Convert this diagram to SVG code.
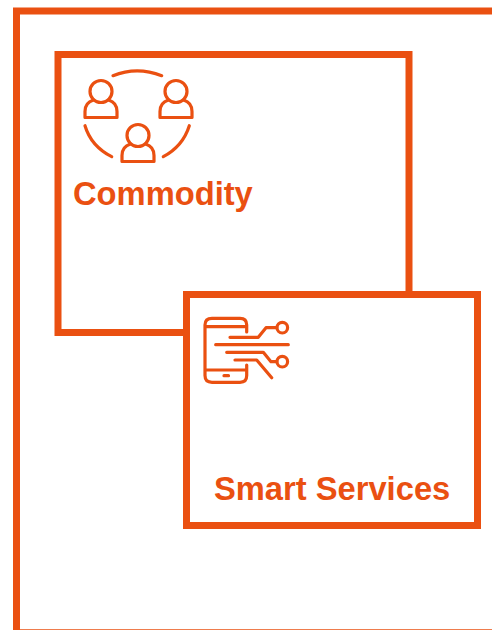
<svg xmlns="http://www.w3.org/2000/svg" width="492" height="630" viewBox="0 0 492 630">
<style>
.box{fill:#fff;stroke:#ea5011;stroke-width:7}
.ic{fill:none;stroke:#ea5011;stroke-width:3.200;stroke-linecap:round;stroke-linejoin:round}
.lbl{font-family:"Liberation Sans",Arial,sans-serif;font-weight:700;font-size:32.700px;fill:#ea5011}
</style>
<defs>
<g id="person" class="ic">
<circle cx="0" cy="-15" r="11"/>
<path d="M-7.500-6.500C-12.500-5-16-1-16 5V11H16V5C16-1 12.500-5 7.500-6.500"/>
</g>
</defs>
<rect width="492" height="630" fill="#fff"/>
<g id="frame">
<path d="M16.500 630V11H492" fill="none" stroke="#ea5011" stroke-width="7"/>
<path d="M20 629.500H492" fill="none" stroke="#ea5011" stroke-opacity=".75" stroke-width="1"/>
</g>
<g id="commodity">
<rect class="box" x="58" y="54.500" width="351" height="278"/>
<use href="#person" x="101" y="106.500"/>
<use href="#person" x="176" y="106.500"/>
<use href="#person" x="138" y="150.500"/>
<path class="ic" d="M113 75.700Q137 66 161.700 75.700M85 125.700Q91 146 111.700 156.700M189.300 125.700Q183 146 163.300 156.700"/>
<text class="lbl" x="73" y="205">Commodity</text>
</g>
<g id="smart-services">
<rect class="box" x="186.500" y="294.500" width="291" height="231"/>
<path class="ic" d="M246.700 332V325Q246.700 318.300 240 318.300H212Q205 318.300 205 325V375.500Q205 382.300 212 382.300H240Q246.700 382.300 246.700 375.500V365M205 326.700H246.700M205 370H246.700M224 375.700H228.500"/>
<path class="ic" d="M230 337.300H258.300L266 327.700H276.700M215.700 344.700H288.300M226.700 352.300H263.300L271 361.700H276.700M235 360H256.700L271.700 377.700"/>
<circle class="ic" cx="282.300" cy="327.700" r="5.300"/>
<circle class="ic" cx="282.300" cy="361.700" r="5.300"/>
<text class="lbl" x="214" y="500">Smart Services</text>
</g>
</svg>
